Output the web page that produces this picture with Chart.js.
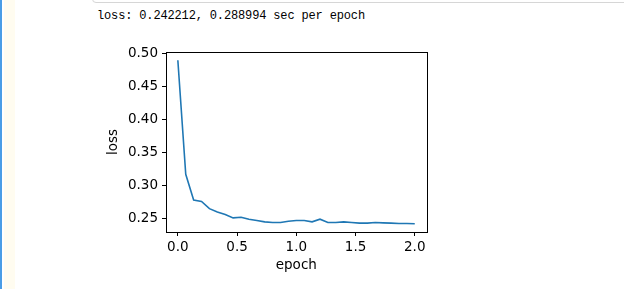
<!DOCTYPE html>
<html>
<head>
<meta charset="utf-8">
<script src="https://cdn.jsdelivr.net/npm/chart.js@4/dist/chart.umd.min.js"></script>
<style>
  html, body { margin: 0; padding: 0; background: #ffffff; }
  body { width: 624px; height: 289px; position: relative; overflow: hidden; }
  #bar { position: absolute; left: 0; top: 0; width: 2px; height: 289px; background: #4a9de6; }
  #cream { position: absolute; left: 4px; top: 0; width: 11px; height: 289px; background: #fffcf0; }
  #box { position: absolute; left: 92px; top: -20px; width: 600px; height: 21px; border: 1px solid #d6d6d6; border-radius: 4px; }
  #out { position: absolute; left: 97px; top: 9px; font-family: "Liberation Mono", monospace; font-size: 12px; letter-spacing: -0.15px; color: #000; white-space: pre; }
  #c { position: absolute; left: 0; top: 0; }
</style>
</head>
<body>
<div id="bar"></div>
<div id="cream"></div>
<div id="box"></div>
<div id="out">loss: 0.242212, 0.288994 sec per epoch</div>
<canvas id="c" width="624" height="289"></canvas>
<script>
// data
const epochs = [0, 0.0667, 0.1333, 0.2, 0.2667, 0.3333, 0.4, 0.4667, 0.5333, 0.6, 0.6667,
  0.7333, 0.8, 0.8667, 0.9333, 1.0, 1.0667, 1.1333, 1.2, 1.2667, 1.3333, 1.4, 1.4667,
  1.5333, 1.6, 1.6667, 1.7333, 1.8, 1.8667, 1.9333, 2.0];
const lossValues = [0.490, 0.317, 0.278, 0.276, 0.265, 0.260, 0.256, 0.251, 0.252, 0.249, 0.247,
  0.245, 0.244, 0.244, 0.246, 0.247, 0.247, 0.245, 0.249, 0.244, 0.244, 0.245, 0.244,
  0.243, 0.243, 0.244, 0.2435, 0.243, 0.2425, 0.2425, 0.2422];
const xTicks = [0.0, 0.5, 1.0, 1.5, 2.0];
const yTicks = [0.25, 0.30, 0.35, 0.40, 0.45, 0.50];

const frame = {
  id: 'frame',
  afterDraw(chart) {
    const a = chart.chartArea, ctx = chart.ctx;
    ctx.save();
    ctx.strokeStyle = '#000';
    ctx.lineWidth = 1;
    ctx.strokeRect(Math.round(a.left) + 0.5, Math.round(a.top) + 0.5,
      Math.round(a.right - a.left), Math.round(a.bottom - a.top));
    ctx.restore();
  }
};

const tickFont = { family: 'DejaVu Sans', size: 13.5 };

new Chart(document.getElementById('c'), {
  type: 'line',
  data: {
    datasets: [{
      data: epochs.map((e, i) => ({ x: e, y: lossValues[i] })),
      borderColor: '#1f77b4',
      borderWidth: 1.6,
      pointRadius: 0,
      tension: 0,
      fill: false
    }]
  },
  options: {
    responsive: false,
    animation: false,
    events: [],
    layout: { padding: { left: 0, top: 52, right: 197.4, bottom: 0 } },
    plugins: { legend: { display: false }, tooltip: { enabled: false } },
    scales: {
      x: {
        type: 'linear',
        min: -0.1, max: 2.1,
        afterBuildTicks: s => { s.ticks = xTicks.map(v => ({ value: v })); },
        afterFit: s => { s.height = 57; },
        ticks: { color: '#000', font: tickFont, padding: 3, maxRotation: 0,
          callback: v => v.toFixed(1) },
        grid: { drawOnChartArea: false, drawTicks: true, tickLength: 4, color: '#000' },
        border: { display: false },
        title: { display: true, text: 'epoch', color: '#000', font: tickFont,
          padding: { top: 0, bottom: 15 } }
      },
      y: {
        type: 'linear',
        min: 0.2296, max: 0.5024,
        afterBuildTicks: s => { s.ticks = yTicks.map(v => ({ value: v })); },
        afterFit: s => { s.width = 166; },
        ticks: { color: '#000', font: tickFont, padding: 4,
          callback: v => v.toFixed(2) },
        grid: { drawOnChartArea: false, drawTicks: true, tickLength: 4, color: '#000' },
        border: { display: false },
        title: { display: true, text: 'loss', color: '#000', font: tickFont,
          padding: { top: 105, bottom: 0 } }
      }
    }
  },
  plugins: [frame]
});
</script>
</body>
</html>
